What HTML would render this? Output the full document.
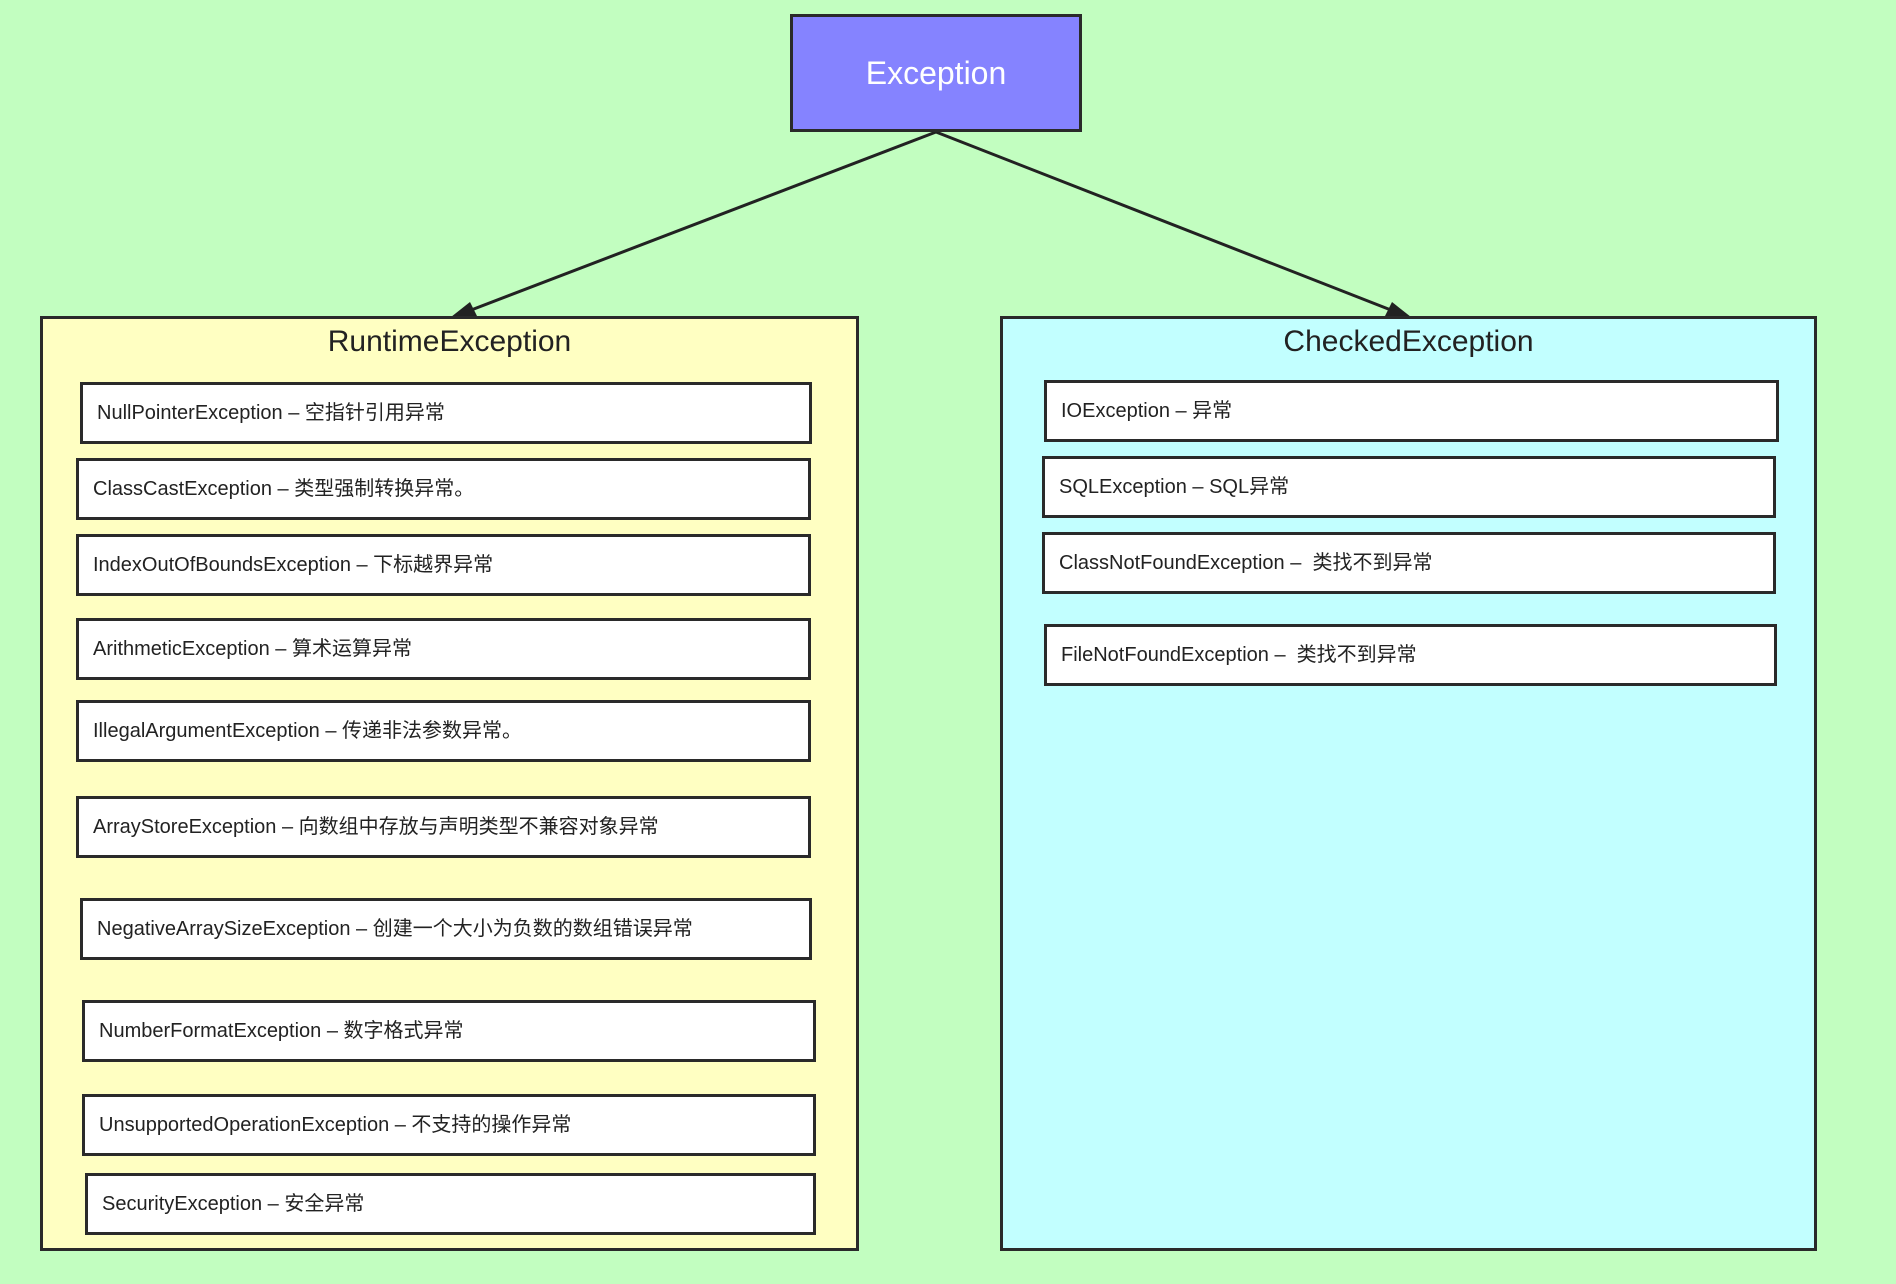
<!DOCTYPE html>
<html><head><meta charset="utf-8"><style>
body{margin:0;width:1896px;height:1284px;background:#c2fec0;position:relative;overflow:hidden;font-family:"Liberation Sans","Noto Sans CJK SC",sans-serif;}
.b{position:absolute;box-sizing:border-box;border:3px solid #2a2a2a;}
.it{position:absolute;box-sizing:border-box;border:3px solid #2a2a2a;background:#fff;height:62px;font-size:20px;color:#222;line-height:56px;padding-left:14px;white-space:nowrap;}
.t{position:absolute;width:100%;text-align:center;top:6px;font-size:30px;color:#222;}
</style></head><body>
<svg width="1896" height="1284" style="position:absolute;left:0;top:0">
<line x1="936" y1="132" x2="466" y2="312" stroke="#222" stroke-width="3"/>
<line x1="936" y1="132" x2="1396" y2="312" stroke="#222" stroke-width="3"/>
<polygon points="451,317 470,302 477,316" fill="#222"/>
<polygon points="1411,317 1392,302 1385,316" fill="#222"/>
</svg>
<div class="b" style="left:790px;top:14px;width:292px;height:118px;background:#8583ff;color:#fff;font-size:32px;text-align:center;line-height:112px;">Exception</div>
<div class="b" style="left:40px;top:316px;width:819px;height:935px;background:#ffffc2;"><div class="t">RuntimeException</div></div>
<div class="b" style="left:1000px;top:316px;width:817px;height:935px;background:#c2ffff;"><div class="t">CheckedException</div></div>

<div class="it" style="left:80px;top:382px;width:732px">NullPointerException – 空指针引用异常</div>
<div class="it" style="left:76px;top:458px;width:735px">ClassCastException – 类型强制转换异常。</div>
<div class="it" style="left:76px;top:534px;width:735px">IndexOutOfBoundsException – 下标越界异常</div>
<div class="it" style="left:76px;top:618px;width:735px">ArithmeticException – 算术运算异常</div>
<div class="it" style="left:76px;top:700px;width:735px">IllegalArgumentException – 传递非法参数异常。</div>
<div class="it" style="left:76px;top:796px;width:735px">ArrayStoreException – 向数组中存放与声明类型不兼容对象异常</div>
<div class="it" style="left:80px;top:898px;width:732px">NegativeArraySizeException – 创建一个大小为负数的数组错误异常</div>
<div class="it" style="left:82px;top:1000px;width:734px">NumberFormatException – 数字格式异常</div>
<div class="it" style="left:82px;top:1094px;width:734px">UnsupportedOperationException – 不支持的操作异常</div>
<div class="it" style="left:85px;top:1173px;width:731px">SecurityException – 安全异常</div>

<div class="it" style="left:1044px;top:380px;width:735px">IOException – 异常</div>
<div class="it" style="left:1042px;top:456px;width:734px">SQLException – SQL异常</div>
<div class="it" style="left:1042px;top:532px;width:734px">ClassNotFoundException –&nbsp; 类找不到异常</div>
<div class="it" style="left:1044px;top:624px;width:733px">FileNotFoundException –&nbsp; 类找不到异常</div>
</body></html>
